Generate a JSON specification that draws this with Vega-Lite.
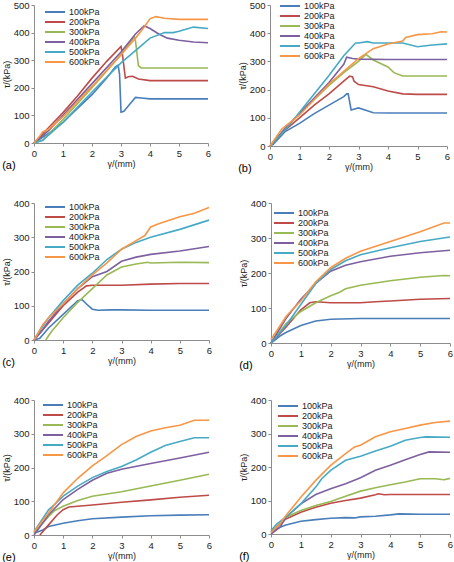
{
  "$schema": "https://vega.github.io/schema/vega-lite/v6.json",
  "padding": {"left": 2, "top": 0, "right": 2, "bottom": 0},
  "background": "white",
  "datasets": {
    "d": [
      {"panel":"a","p":"100kPa","x":0,"y":0},{"panel":"a","p":"100kPa","x":0.5,"y":35},{"panel":"a","p":"100kPa","x":1,"y":75},{"panel":"a","p":"100kPa","x":1.5,"y":125},{"panel":"a","p":"100kPa","x":2,"y":175},{"panel":"a","p":"100kPa","x":2.5,"y":235},{"panel":"a","p":"100kPa","x":2.8,"y":275},{"panel":"a","p":"100kPa","x":2.9,"y":282},{"panel":"a","p":"100kPa","x":2.95,"y":250},{"panel":"a","p":"100kPa","x":3.0,"y":112},{"panel":"a","p":"100kPa","x":3.1,"y":115},{"panel":"a","p":"100kPa","x":3.3,"y":140},{"panel":"a","p":"100kPa","x":3.5,"y":165},{"panel":"a","p":"100kPa","x":3.7,"y":163},{"panel":"a","p":"100kPa","x":4,"y":160},{"panel":"a","p":"100kPa","x":5,"y":160},{"panel":"a","p":"100kPa","x":6,"y":160},
      {"panel":"a","p":"200kPa","x":0,"y":0},{"panel":"a","p":"200kPa","x":0.5,"y":55},{"panel":"a","p":"200kPa","x":1,"y":110},{"panel":"a","p":"200kPa","x":1.5,"y":170},{"panel":"a","p":"200kPa","x":2,"y":235},{"panel":"a","p":"200kPa","x":2.5,"y":295},{"panel":"a","p":"200kPa","x":3,"y":350},{"panel":"a","p":"200kPa","x":3.05,"y":320},{"panel":"a","p":"200kPa","x":3.15,"y":235},{"panel":"a","p":"200kPa","x":3.25,"y":240},{"panel":"a","p":"200kPa","x":3.4,"y":242},{"panel":"a","p":"200kPa","x":3.6,"y":232},{"panel":"a","p":"200kPa","x":4,"y":226},{"panel":"a","p":"200kPa","x":5,"y":226},{"panel":"a","p":"200kPa","x":6,"y":226},
      {"panel":"a","p":"300kPa","x":0,"y":0},{"panel":"a","p":"300kPa","x":0.3,"y":10},{"panel":"a","p":"300kPa","x":1,"y":85},{"panel":"a","p":"300kPa","x":2,"y":200},{"panel":"a","p":"300kPa","x":3,"y":320},{"panel":"a","p":"300kPa","x":3.45,"y":385},{"panel":"a","p":"300kPa","x":3.5,"y":370},{"panel":"a","p":"300kPa","x":3.6,"y":280},{"panel":"a","p":"300kPa","x":3.7,"y":272},{"panel":"a","p":"300kPa","x":4,"y":272},{"panel":"a","p":"300kPa","x":6,"y":272},
      {"panel":"a","p":"400kPa","x":0,"y":0},{"panel":"a","p":"400kPa","x":0.5,"y":45},{"panel":"a","p":"400kPa","x":1,"y":100},{"panel":"a","p":"400kPa","x":2,"y":215},{"panel":"a","p":"400kPa","x":3,"y":330},{"panel":"a","p":"400kPa","x":3.5,"y":395},{"panel":"a","p":"400kPa","x":3.8,"y":425},{"panel":"a","p":"400kPa","x":4,"y":415},{"panel":"a","p":"400kPa","x":4.3,"y":395},{"panel":"a","p":"400kPa","x":4.6,"y":380},{"panel":"a","p":"400kPa","x":5,"y":372},{"panel":"a","p":"400kPa","x":5.5,"y":366},{"panel":"a","p":"400kPa","x":6,"y":363},
      {"panel":"a","p":"500kPa","x":0,"y":0},{"panel":"a","p":"500kPa","x":0.3,"y":10},{"panel":"a","p":"500kPa","x":1,"y":75},{"panel":"a","p":"500kPa","x":2,"y":185},{"panel":"a","p":"500kPa","x":3,"y":290},{"panel":"a","p":"500kPa","x":3.5,"y":335},{"panel":"a","p":"500kPa","x":4,"y":380},{"panel":"a","p":"500kPa","x":4.5,"y":400},{"panel":"a","p":"500kPa","x":4.8,"y":400},{"panel":"a","p":"500kPa","x":5,"y":405},{"panel":"a","p":"500kPa","x":5.5,"y":420},{"panel":"a","p":"500kPa","x":6,"y":415},
      {"panel":"a","p":"600kPa","x":0,"y":0},{"panel":"a","p":"600kPa","x":0.2,"y":25},{"panel":"a","p":"600kPa","x":0.3,"y":40},{"panel":"a","p":"600kPa","x":0.5,"y":50},{"panel":"a","p":"600kPa","x":1,"y":95},{"panel":"a","p":"600kPa","x":2,"y":205},{"panel":"a","p":"600kPa","x":3,"y":320},{"panel":"a","p":"600kPa","x":3.5,"y":380},{"panel":"a","p":"600kPa","x":3.8,"y":420},{"panel":"a","p":"600kPa","x":4,"y":450},{"panel":"a","p":"600kPa","x":4.2,"y":458},{"panel":"a","p":"600kPa","x":4.5,"y":452},{"panel":"a","p":"600kPa","x":5,"y":448},{"panel":"a","p":"600kPa","x":6,"y":448},

      {"panel":"b","p":"100kPa","x":0,"y":0},{"panel":"b","p":"100kPa","x":0.1,"y":5},{"panel":"b","p":"100kPa","x":0.5,"y":50},{"panel":"b","p":"100kPa","x":1,"y":80},{"panel":"b","p":"100kPa","x":1.5,"y":115},{"panel":"b","p":"100kPa","x":2,"y":145},{"panel":"b","p":"100kPa","x":2.5,"y":175},{"panel":"b","p":"100kPa","x":2.6,"y":185},{"panel":"b","p":"100kPa","x":2.65,"y":185},{"panel":"b","p":"100kPa","x":2.75,"y":128},{"panel":"b","p":"100kPa","x":3,"y":135},{"panel":"b","p":"100kPa","x":3.3,"y":125},{"panel":"b","p":"100kPa","x":3.5,"y":118},{"panel":"b","p":"100kPa","x":4,"y":117},{"panel":"b","p":"100kPa","x":5,"y":117},{"panel":"b","p":"100kPa","x":6,"y":117},
      {"panel":"b","p":"200kPa","x":0,"y":0},{"panel":"b","p":"200kPa","x":0.5,"y":55},{"panel":"b","p":"200kPa","x":1,"y":100},{"panel":"b","p":"200kPa","x":1.5,"y":145},{"panel":"b","p":"200kPa","x":2,"y":185},{"panel":"b","p":"200kPa","x":2.5,"y":230},{"panel":"b","p":"200kPa","x":2.7,"y":248},{"panel":"b","p":"200kPa","x":2.8,"y":245},{"panel":"b","p":"200kPa","x":2.85,"y":230},{"panel":"b","p":"200kPa","x":3,"y":218},{"panel":"b","p":"200kPa","x":3.5,"y":210},{"panel":"b","p":"200kPa","x":4,"y":195},{"panel":"b","p":"200kPa","x":4.5,"y":185},{"panel":"b","p":"200kPa","x":5,"y":183},{"panel":"b","p":"200kPa","x":6,"y":183},
      {"panel":"b","p":"300kPa","x":0,"y":0},{"panel":"b","p":"300kPa","x":0.5,"y":60},{"panel":"b","p":"300kPa","x":1,"y":115},{"panel":"b","p":"300kPa","x":2,"y":215},{"panel":"b","p":"300kPa","x":2.5,"y":260},{"panel":"b","p":"300kPa","x":3,"y":300},{"panel":"b","p":"300kPa","x":3.25,"y":325},{"panel":"b","p":"300kPa","x":3.5,"y":305},{"panel":"b","p":"300kPa","x":4,"y":280},{"panel":"b","p":"300kPa","x":4.2,"y":260},{"panel":"b","p":"300kPa","x":4.5,"y":248},{"panel":"b","p":"300kPa","x":5,"y":248},{"panel":"b","p":"300kPa","x":6,"y":248},
      {"panel":"b","p":"400kPa","x":0,"y":0},{"panel":"b","p":"400kPa","x":0.5,"y":60},{"panel":"b","p":"400kPa","x":1,"y":115},{"panel":"b","p":"400kPa","x":2,"y":225},{"panel":"b","p":"400kPa","x":2.5,"y":290},{"panel":"b","p":"400kPa","x":2.6,"y":315},{"panel":"b","p":"400kPa","x":2.8,"y":310},{"panel":"b","p":"400kPa","x":3,"y":308},{"panel":"b","p":"400kPa","x":4,"y":307},{"panel":"b","p":"400kPa","x":5,"y":307},{"panel":"b","p":"400kPa","x":6,"y":307},
      {"panel":"b","p":"500kPa","x":0,"y":0},{"panel":"b","p":"500kPa","x":0.5,"y":55},{"panel":"b","p":"500kPa","x":1,"y":120},{"panel":"b","p":"500kPa","x":2,"y":250},{"panel":"b","p":"500kPa","x":2.5,"y":320},{"panel":"b","p":"500kPa","x":2.9,"y":365},{"panel":"b","p":"500kPa","x":3,"y":365},{"panel":"b","p":"500kPa","x":3.3,"y":370},{"panel":"b","p":"500kPa","x":3.5,"y":365},{"panel":"b","p":"500kPa","x":4,"y":365},{"panel":"b","p":"500kPa","x":4.5,"y":365},{"panel":"b","p":"500kPa","x":5,"y":352},{"panel":"b","p":"500kPa","x":5.5,"y":358},{"panel":"b","p":"500kPa","x":6,"y":362},
      {"panel":"b","p":"600kPa","x":0,"y":0},{"panel":"b","p":"600kPa","x":0.4,"y":60},{"panel":"b","p":"600kPa","x":1,"y":110},{"panel":"b","p":"600kPa","x":2,"y":220},{"panel":"b","p":"600kPa","x":3,"y":310},{"panel":"b","p":"600kPa","x":3.5,"y":345},{"panel":"b","p":"600kPa","x":4,"y":362},{"panel":"b","p":"600kPa","x":4.5,"y":372},{"panel":"b","p":"600kPa","x":4.6,"y":385},{"panel":"b","p":"600kPa","x":5,"y":395},{"panel":"b","p":"600kPa","x":5.5,"y":398},{"panel":"b","p":"600kPa","x":5.8,"y":405},{"panel":"b","p":"600kPa","x":6,"y":404},

      {"panel":"c","p":"100kPa","x":0,"y":0},{"panel":"c","p":"100kPa","x":0.2,"y":5},{"panel":"c","p":"100kPa","x":0.5,"y":35},{"panel":"c","p":"100kPa","x":1,"y":75},{"panel":"c","p":"100kPa","x":1.5,"y":115},{"panel":"c","p":"100kPa","x":1.65,"y":118},{"panel":"c","p":"100kPa","x":1.8,"y":105},{"panel":"c","p":"100kPa","x":2,"y":90},{"panel":"c","p":"100kPa","x":2.2,"y":87},{"panel":"c","p":"100kPa","x":2.6,"y":88},{"panel":"c","p":"100kPa","x":3,"y":88},{"panel":"c","p":"100kPa","x":4,"y":87},{"panel":"c","p":"100kPa","x":5,"y":87},{"panel":"c","p":"100kPa","x":6,"y":87},
      {"panel":"c","p":"200kPa","x":0,"y":0},{"panel":"c","p":"200kPa","x":0.3,"y":30},{"panel":"c","p":"200kPa","x":0.5,"y":50},{"panel":"c","p":"200kPa","x":1,"y":100},{"panel":"c","p":"200kPa","x":1.5,"y":140},{"panel":"c","p":"200kPa","x":1.8,"y":158},{"panel":"c","p":"200kPa","x":2,"y":160},{"panel":"c","p":"200kPa","x":3,"y":160},{"panel":"c","p":"200kPa","x":4,"y":163},{"panel":"c","p":"200kPa","x":5,"y":165},{"panel":"c","p":"200kPa","x":6,"y":165},
      {"panel":"c","p":"300kPa","x":0.4,"y":0},{"panel":"c","p":"300kPa","x":0.6,"y":25},{"panel":"c","p":"300kPa","x":1,"y":65},{"panel":"c","p":"300kPa","x":1.5,"y":110},{"panel":"c","p":"300kPa","x":2,"y":150},{"panel":"c","p":"300kPa","x":2.5,"y":190},{"panel":"c","p":"300kPa","x":3,"y":213},{"panel":"c","p":"300kPa","x":3.5,"y":222},{"panel":"c","p":"300kPa","x":3.9,"y":227},{"panel":"c","p":"300kPa","x":4,"y":225},{"panel":"c","p":"300kPa","x":5,"y":227},{"panel":"c","p":"300kPa","x":6,"y":226},
      {"panel":"c","p":"400kPa","x":0,"y":0},{"panel":"c","p":"400kPa","x":0.3,"y":30},{"panel":"c","p":"400kPa","x":0.5,"y":55},{"panel":"c","p":"400kPa","x":1,"y":105},{"panel":"c","p":"400kPa","x":1.5,"y":150},{"panel":"c","p":"400kPa","x":2,"y":185},{"panel":"c","p":"400kPa","x":2.5,"y":200},{"panel":"c","p":"400kPa","x":3,"y":230},{"panel":"c","p":"400kPa","x":3.5,"y":242},{"panel":"c","p":"400kPa","x":4,"y":250},{"panel":"c","p":"400kPa","x":5,"y":260},{"panel":"c","p":"400kPa","x":6,"y":273},
      {"panel":"c","p":"500kPa","x":0,"y":0},{"panel":"c","p":"500kPa","x":0.3,"y":40},{"panel":"c","p":"500kPa","x":0.5,"y":65},{"panel":"c","p":"500kPa","x":1,"y":115},{"panel":"c","p":"500kPa","x":1.5,"y":160},{"panel":"c","p":"500kPa","x":2,"y":195},{"panel":"c","p":"500kPa","x":2.5,"y":235},{"panel":"c","p":"500kPa","x":3,"y":265},{"panel":"c","p":"500kPa","x":3.5,"y":285},{"panel":"c","p":"500kPa","x":4,"y":300},{"panel":"c","p":"500kPa","x":5,"y":323},{"panel":"c","p":"500kPa","x":6,"y":350},
      {"panel":"c","p":"600kPa","x":0,"y":0},{"panel":"c","p":"600kPa","x":0.3,"y":45},{"panel":"c","p":"600kPa","x":0.4,"y":55},{"panel":"c","p":"600kPa","x":0.5,"y":65},{"panel":"c","p":"600kPa","x":1,"y":105},{"panel":"c","p":"600kPa","x":1.5,"y":150},{"panel":"c","p":"600kPa","x":2,"y":190},{"panel":"c","p":"600kPa","x":2.5,"y":225},{"panel":"c","p":"600kPa","x":3,"y":265},{"panel":"c","p":"600kPa","x":3.5,"y":290},{"panel":"c","p":"600kPa","x":3.8,"y":305},{"panel":"c","p":"600kPa","x":4,"y":330},{"panel":"c","p":"600kPa","x":4.3,"y":340},{"panel":"c","p":"600kPa","x":5,"y":360},{"panel":"c","p":"600kPa","x":5.5,"y":370},{"panel":"c","p":"600kPa","x":6,"y":387},

      {"panel":"d","p":"100kPa","x":0,"y":0},{"panel":"d","p":"100kPa","x":0.3,"y":20},{"panel":"d","p":"100kPa","x":0.5,"y":30},{"panel":"d","p":"100kPa","x":1,"y":50},{"panel":"d","p":"100kPa","x":1.5,"y":63},{"panel":"d","p":"100kPa","x":2,"y":68},{"panel":"d","p":"100kPa","x":3,"y":70},{"panel":"d","p":"100kPa","x":4,"y":70},{"panel":"d","p":"100kPa","x":5,"y":70},{"panel":"d","p":"100kPa","x":6,"y":70},
      {"panel":"d","p":"200kPa","x":0,"y":0},{"panel":"d","p":"200kPa","x":0.5,"y":45},{"panel":"d","p":"200kPa","x":1,"y":95},{"panel":"d","p":"200kPa","x":1.3,"y":115},{"panel":"d","p":"200kPa","x":1.5,"y":118},{"panel":"d","p":"200kPa","x":2,"y":115},{"panel":"d","p":"200kPa","x":3,"y":115},{"panel":"d","p":"200kPa","x":3.5,"y":118},{"panel":"d","p":"200kPa","x":4,"y":120},{"panel":"d","p":"200kPa","x":5,"y":125},{"panel":"d","p":"200kPa","x":6,"y":127},
      {"panel":"d","p":"300kPa","x":0,"y":0},{"panel":"d","p":"300kPa","x":0.5,"y":55},{"panel":"d","p":"300kPa","x":1,"y":90},{"panel":"d","p":"300kPa","x":1.5,"y":115},{"panel":"d","p":"300kPa","x":2,"y":135},{"panel":"d","p":"300kPa","x":2.3,"y":145},{"panel":"d","p":"300kPa","x":2.5,"y":155},{"panel":"d","p":"300kPa","x":3,"y":165},{"panel":"d","p":"300kPa","x":4,"y":178},{"panel":"d","p":"300kPa","x":5,"y":188},{"panel":"d","p":"300kPa","x":5.8,"y":193},{"panel":"d","p":"300kPa","x":6,"y":192},
      {"panel":"d","p":"400kPa","x":0,"y":0},{"panel":"d","p":"400kPa","x":0.5,"y":70},{"panel":"d","p":"400kPa","x":1,"y":125},{"panel":"d","p":"400kPa","x":1.5,"y":170},{"panel":"d","p":"400kPa","x":2,"y":205},{"panel":"d","p":"400kPa","x":2.5,"y":222},{"panel":"d","p":"400kPa","x":3,"y":232},{"panel":"d","p":"400kPa","x":4,"y":248},{"panel":"d","p":"400kPa","x":5,"y":258},{"panel":"d","p":"400kPa","x":6,"y":265},
      {"panel":"d","p":"500kPa","x":0,"y":0},{"panel":"d","p":"500kPa","x":0.5,"y":50},{"panel":"d","p":"500kPa","x":1,"y":110},{"panel":"d","p":"500kPa","x":1.5,"y":170},{"panel":"d","p":"500kPa","x":2,"y":210},{"panel":"d","p":"500kPa","x":2.5,"y":235},{"panel":"d","p":"500kPa","x":3,"y":252},{"panel":"d","p":"500kPa","x":4,"y":272},{"panel":"d","p":"500kPa","x":5,"y":290},{"panel":"d","p":"500kPa","x":6,"y":303},
      {"panel":"d","p":"600kPa","x":0,"y":10},{"panel":"d","p":"600kPa","x":0.5,"y":75},{"panel":"d","p":"600kPa","x":0.6,"y":85},{"panel":"d","p":"600kPa","x":1,"y":120},{"panel":"d","p":"600kPa","x":1.5,"y":175},{"panel":"d","p":"600kPa","x":2,"y":215},{"panel":"d","p":"600kPa","x":2.5,"y":242},{"panel":"d","p":"600kPa","x":3,"y":262},{"panel":"d","p":"600kPa","x":4,"y":290},{"panel":"d","p":"600kPa","x":5,"y":318},{"panel":"d","p":"600kPa","x":5.8,"y":343},{"panel":"d","p":"600kPa","x":6,"y":343},

      {"panel":"e","p":"100kPa","x":0,"y":5},{"panel":"e","p":"100kPa","x":0.3,"y":15},{"panel":"e","p":"100kPa","x":0.5,"y":25},{"panel":"e","p":"100kPa","x":1,"y":35},{"panel":"e","p":"100kPa","x":1.5,"y":42},{"panel":"e","p":"100kPa","x":2,"y":48},{"panel":"e","p":"100kPa","x":3,"y":53},{"panel":"e","p":"100kPa","x":4,"y":57},{"panel":"e","p":"100kPa","x":5,"y":59},{"panel":"e","p":"100kPa","x":6,"y":60},
      {"panel":"e","p":"200kPa","x":0.2,"y":0},{"panel":"e","p":"200kPa","x":0.5,"y":30},{"panel":"e","p":"200kPa","x":0.8,"y":60},{"panel":"e","p":"200kPa","x":1,"y":75},{"panel":"e","p":"200kPa","x":1.2,"y":83},{"panel":"e","p":"200kPa","x":1.5,"y":85},{"panel":"e","p":"200kPa","x":2,"y":89},{"panel":"e","p":"200kPa","x":3,"y":97},{"panel":"e","p":"200kPa","x":4,"y":104},{"panel":"e","p":"200kPa","x":5,"y":112},{"panel":"e","p":"200kPa","x":6,"y":118},
      {"panel":"e","p":"300kPa","x":0,"y":5},{"panel":"e","p":"300kPa","x":0.5,"y":55},{"panel":"e","p":"300kPa","x":0.7,"y":72},{"panel":"e","p":"300kPa","x":1,"y":85},{"panel":"e","p":"300kPa","x":1.5,"y":102},{"panel":"e","p":"300kPa","x":2,"y":115},{"panel":"e","p":"300kPa","x":3,"y":128},{"panel":"e","p":"300kPa","x":4,"y":145},{"panel":"e","p":"300kPa","x":5,"y":162},{"panel":"e","p":"300kPa","x":6,"y":180},
      {"panel":"e","p":"400kPa","x":0,"y":0},{"panel":"e","p":"400kPa","x":0.5,"y":60},{"panel":"e","p":"400kPa","x":1,"y":105},{"panel":"e","p":"400kPa","x":1.5,"y":135},{"panel":"e","p":"400kPa","x":2,"y":162},{"panel":"e","p":"400kPa","x":2.5,"y":183},{"panel":"e","p":"400kPa","x":3,"y":195},{"panel":"e","p":"400kPa","x":4,"y":212},{"panel":"e","p":"400kPa","x":5,"y":228},{"panel":"e","p":"400kPa","x":6,"y":245},
      {"panel":"e","p":"500kPa","x":0,"y":10},{"panel":"e","p":"500kPa","x":0.5,"y":75},{"panel":"e","p":"500kPa","x":0.7,"y":90},{"panel":"e","p":"500kPa","x":1,"y":115},{"panel":"e","p":"500kPa","x":1.5,"y":145},{"panel":"e","p":"500kPa","x":2,"y":170},{"panel":"e","p":"500kPa","x":2.5,"y":188},{"panel":"e","p":"500kPa","x":3,"y":203},{"panel":"e","p":"500kPa","x":3.5,"y":222},{"panel":"e","p":"500kPa","x":4,"y":245},{"panel":"e","p":"500kPa","x":4.5,"y":265},{"panel":"e","p":"500kPa","x":5,"y":277},{"panel":"e","p":"500kPa","x":5.5,"y":288},{"panel":"e","p":"500kPa","x":6,"y":288},
      {"panel":"e","p":"600kPa","x":0,"y":10},{"panel":"e","p":"600kPa","x":0.5,"y":65},{"panel":"e","p":"600kPa","x":1,"y":125},{"panel":"e","p":"600kPa","x":1.5,"y":168},{"panel":"e","p":"600kPa","x":2,"y":205},{"panel":"e","p":"600kPa","x":2.5,"y":235},{"panel":"e","p":"600kPa","x":3,"y":268},{"panel":"e","p":"600kPa","x":3.5,"y":292},{"panel":"e","p":"600kPa","x":4,"y":308},{"panel":"e","p":"600kPa","x":4.5,"y":318},{"panel":"e","p":"600kPa","x":5,"y":325},{"panel":"e","p":"600kPa","x":5.5,"y":340},{"panel":"e","p":"600kPa","x":6,"y":340},

      {"panel":"f","p":"100kPa","x":0,"y":5},{"panel":"f","p":"100kPa","x":0.3,"y":20},{"panel":"f","p":"100kPa","x":0.5,"y":27},{"panel":"f","p":"100kPa","x":1,"y":38},{"panel":"f","p":"100kPa","x":1.5,"y":43},{"panel":"f","p":"100kPa","x":2,"y":47},{"panel":"f","p":"100kPa","x":2.5,"y":49},{"panel":"f","p":"100kPa","x":2.8,"y":48},{"panel":"f","p":"100kPa","x":3,"y":51},{"panel":"f","p":"100kPa","x":3.5,"y":53},{"panel":"f","p":"100kPa","x":4,"y":57},{"panel":"f","p":"100kPa","x":4.3,"y":60},{"panel":"f","p":"100kPa","x":5,"y":59},{"panel":"f","p":"100kPa","x":6,"y":59},
      {"panel":"f","p":"200kPa","x":0,"y":5},{"panel":"f","p":"200kPa","x":0.5,"y":45},{"panel":"f","p":"200kPa","x":1,"y":65},{"panel":"f","p":"200kPa","x":1.5,"y":80},{"panel":"f","p":"200kPa","x":2,"y":92},{"panel":"f","p":"200kPa","x":2.5,"y":100},{"panel":"f","p":"200kPa","x":3,"y":107},{"panel":"f","p":"200kPa","x":3.5,"y":117},{"panel":"f","p":"200kPa","x":3.6,"y":120},{"panel":"f","p":"200kPa","x":3.8,"y":117},{"panel":"f","p":"200kPa","x":4,"y":118},{"panel":"f","p":"200kPa","x":5,"y":118},{"panel":"f","p":"200kPa","x":6,"y":118},
      {"panel":"f","p":"300kPa","x":0,"y":5},{"panel":"f","p":"300kPa","x":0.5,"y":50},{"panel":"f","p":"300kPa","x":1,"y":70},{"panel":"f","p":"300kPa","x":1.5,"y":85},{"panel":"f","p":"300kPa","x":2,"y":97},{"panel":"f","p":"300kPa","x":2.5,"y":113},{"panel":"f","p":"300kPa","x":3,"y":128},{"panel":"f","p":"300kPa","x":3.5,"y":138},{"panel":"f","p":"300kPa","x":4,"y":147},{"panel":"f","p":"300kPa","x":4.5,"y":155},{"panel":"f","p":"300kPa","x":5,"y":165},{"panel":"f","p":"300kPa","x":5.5,"y":165},{"panel":"f","p":"300kPa","x":5.8,"y":162},{"panel":"f","p":"300kPa","x":6,"y":166},
      {"panel":"f","p":"400kPa","x":0,"y":0},{"panel":"f","p":"400kPa","x":0.3,"y":20},{"panel":"f","p":"400kPa","x":0.5,"y":50},{"panel":"f","p":"400kPa","x":1,"y":90},{"panel":"f","p":"400kPa","x":1.5,"y":118},{"panel":"f","p":"400kPa","x":2,"y":135},{"panel":"f","p":"400kPa","x":2.5,"y":150},{"panel":"f","p":"400kPa","x":3,"y":168},{"panel":"f","p":"400kPa","x":3.5,"y":190},{"panel":"f","p":"400kPa","x":4,"y":205},{"panel":"f","p":"400kPa","x":4.5,"y":222},{"panel":"f","p":"400kPa","x":5,"y":237},{"panel":"f","p":"400kPa","x":5.3,"y":245},{"panel":"f","p":"400kPa","x":6,"y":244},
      {"panel":"f","p":"500kPa","x":0,"y":10},{"panel":"f","p":"500kPa","x":0.2,"y":30},{"panel":"f","p":"500kPa","x":0.5,"y":50},{"panel":"f","p":"500kPa","x":1,"y":90},{"panel":"f","p":"500kPa","x":1.5,"y":140},{"panel":"f","p":"500kPa","x":1.7,"y":165},{"panel":"f","p":"500kPa","x":2,"y":190},{"panel":"f","p":"500kPa","x":2.5,"y":220},{"panel":"f","p":"500kPa","x":3,"y":232},{"panel":"f","p":"500kPa","x":3.5,"y":248},{"panel":"f","p":"500kPa","x":4,"y":262},{"panel":"f","p":"500kPa","x":4.5,"y":280},{"panel":"f","p":"500kPa","x":5,"y":288},{"panel":"f","p":"500kPa","x":5.2,"y":290},{"panel":"f","p":"500kPa","x":6,"y":289},
      {"panel":"f","p":"600kPa","x":0,"y":5},{"panel":"f","p":"600kPa","x":0.3,"y":30},{"panel":"f","p":"600kPa","x":0.5,"y":55},{"panel":"f","p":"600kPa","x":1,"y":110},{"panel":"f","p":"600kPa","x":1.5,"y":160},{"panel":"f","p":"600kPa","x":2,"y":205},{"panel":"f","p":"600kPa","x":2.5,"y":240},{"panel":"f","p":"600kPa","x":2.8,"y":260},{"panel":"f","p":"600kPa","x":3,"y":265},{"panel":"f","p":"600kPa","x":3.5,"y":290},{"panel":"f","p":"600kPa","x":4,"y":305},{"panel":"f","p":"600kPa","x":4.5,"y":315},{"panel":"f","p":"600kPa","x":5,"y":325},{"panel":"f","p":"600kPa","x":5.5,"y":333},{"panel":"f","p":"600kPa","x":6,"y":337}
    ]
  },
  "data": {"name": "d"},
  "vconcat": [
    {"hconcat": [
      {"width": 174, "height": 138, "title": {"text": "(a)"}, "transform": [{"filter": "datum.panel == 'a'"}], "mark": {"type": "line", "strokeWidth": 1.6},
       "encoding": {"x": {"field": "x", "type": "quantitative", "scale": {"domain": [0, 6], "nice": false}, "axis": {"values": [0,1,2,3,4,5,6], "title": "γ/(mm)"}},
                    "y": {"field": "y", "type": "quantitative", "scale": {"domain": [0, 500], "nice": false}, "axis": {"values": [0,100,200,300,400,500], "title": "τ/(kPa)"}},
                    "color": {"field": "p", "type": "nominal", "legend": {"legendX": 10, "legendY": 2}, "scale": {"domain": ["100kPa","200kPa","300kPa","400kPa","500kPa","600kPa"], "range": ["#4A7EBB","#BE4B48","#98B954","#7D60A0","#46AAC5","#F79646"]}},
                    "order": {"field": "x", "type": "quantitative"}}},
      {"width": 177, "height": 141, "title": {"text": "(b)"}, "transform": [{"filter": "datum.panel == 'b'"}], "mark": {"type": "line", "strokeWidth": 1.6},
       "encoding": {"x": {"field": "x", "type": "quantitative", "scale": {"domain": [0, 6], "nice": false}, "axis": {"values": [0,1,2,3,4,5,6], "title": "γ/(mm)"}},
                    "y": {"field": "y", "type": "quantitative", "scale": {"domain": [0, 500], "nice": false}, "axis": {"values": [0,100,200,300,400,500], "title": "τ/(kPa)"}},
                    "color": {"field": "p", "type": "nominal", "legend": {"legendX": 9, "legendY": -4}, "scale": {"domain": ["100kPa","200kPa","300kPa","400kPa","500kPa","600kPa"], "range": ["#4A7EBB","#BE4B48","#98B954","#7D60A0","#46AAC5","#F79646"]}},
                    "order": {"field": "x", "type": "quantitative"}}}
    ], "spacing": 26, "resolve": {"scale": {"color": "independent", "x": "independent", "y": "independent"}}},
    {"hconcat": [
      {"width": 175, "height": 137, "title": {"text": "(c)"}, "transform": [{"filter": "datum.panel == 'c'"}], "mark": {"type": "line", "strokeWidth": 1.6},
       "encoding": {"x": {"field": "x", "type": "quantitative", "scale": {"domain": [0, 6], "nice": false}, "axis": {"values": [0,1,2,3,4,5,6], "title": "γ/(mm)"}},
                    "y": {"field": "y", "type": "quantitative", "scale": {"domain": [0, 400], "nice": false}, "axis": {"values": [0,100,200,300,400], "title": "τ/(kPa)"}},
                    "color": {"field": "p", "type": "nominal", "legend": {"legendX": 10, "legendY": -1}, "scale": {"domain": ["100kPa","200kPa","300kPa","400kPa","500kPa","600kPa"], "range": ["#4A7EBB","#BE4B48","#98B954","#7D60A0","#46AAC5","#F79646"]}},
                    "order": {"field": "x", "type": "quantitative"}}},
      {"width": 179, "height": 140, "title": {"text": "(d)"}, "transform": [{"filter": "datum.panel == 'd'"}], "mark": {"type": "line", "strokeWidth": 1.6},
       "encoding": {"x": {"field": "x", "type": "quantitative", "scale": {"domain": [0, 6], "nice": false}, "axis": {"values": [0,1,2,3,4,5,6], "title": "γ/(mm)"}},
                    "y": {"field": "y", "type": "quantitative", "scale": {"domain": [0, 400], "nice": false}, "axis": {"values": [0,100,200,300,400], "title": "τ/(kPa)"}},
                    "color": {"field": "p", "type": "nominal", "legend": {"legendX": 2, "legendY": 5}, "scale": {"domain": ["100kPa","200kPa","300kPa","400kPa","500kPa","600kPa"], "range": ["#4A7EBB","#BE4B48","#98B954","#7D60A0","#46AAC5","#F79646"]}},
                    "order": {"field": "x", "type": "quantitative"}}}
    ], "spacing": 26, "resolve": {"scale": {"color": "independent", "x": "independent", "y": "independent"}}},
    {"hconcat": [
      {"width": 175, "height": 135, "title": {"text": "(e)"}, "transform": [{"filter": "datum.panel == 'e'"}], "mark": {"type": "line", "strokeWidth": 1.6},
       "encoding": {"x": {"field": "x", "type": "quantitative", "scale": {"domain": [0, 6], "nice": false}, "axis": {"values": [0,1,2,3,4,5,6], "title": "γ/(mm)"}},
                    "y": {"field": "y", "type": "quantitative", "scale": {"domain": [0, 400], "nice": false}, "axis": {"values": [0,100,200,300,400], "title": "τ/(kPa)"}},
                    "color": {"field": "p", "type": "nominal", "legend": {"legendX": 8, "legendY": 0}, "scale": {"domain": ["100kPa","200kPa","300kPa","400kPa","500kPa","600kPa"], "range": ["#4A7EBB","#BE4B48","#98B954","#7D60A0","#46AAC5","#F79646"]}},
                    "order": {"field": "x", "type": "quantitative"}}},
      {"width": 179, "height": 134, "title": {"text": "(f)"}, "transform": [{"filter": "datum.panel == 'f'"}], "mark": {"type": "line", "strokeWidth": 1.6},
       "encoding": {"x": {"field": "x", "type": "quantitative", "scale": {"domain": [0, 6], "nice": false}, "axis": {"values": [0,1,2,3,4,5,6], "title": "γ/(mm)"}},
                    "y": {"field": "y", "type": "quantitative", "scale": {"domain": [0, 400], "nice": false}, "axis": {"values": [0,100,200,300,400], "title": "τ/(kPa)"}},
                    "color": {"field": "p", "type": "nominal", "legend": {"legendX": 6, "legendY": 1}, "scale": {"domain": ["100kPa","200kPa","300kPa","400kPa","500kPa","600kPa"], "range": ["#4A7EBB","#BE4B48","#98B954","#7D60A0","#46AAC5","#F79646"]}},
                    "order": {"field": "x", "type": "quantitative"}}}
    ], "spacing": 26, "resolve": {"scale": {"color": "independent", "x": "independent", "y": "independent"}}}
  ],
  "spacing": 24,
  "resolve": {"scale": {"color": "independent", "x": "independent", "y": "independent"}},
  "config": {
    "font": "Liberation Sans",
    "view": {"stroke": null},
    "title": {"orient": "bottom", "anchor": "start", "frame": "bounds", "fontSize": 11, "fontWeight": "normal", "color": "#000", "offset": -9},
    "axis": {"grid": false, "domainColor": "#8c8c8c", "tickColor": "#8c8c8c", "tickSize": 3, "labelFontSize": 9.5, "labelColor": "#222", "titleFontSize": 9, "titleFontWeight": "normal", "titleColor": "#222", "labelPadding": 2, "titlePadding": 2, "labelFlush": false},
    "legend": {"orient": "none", "title": null, "labelFontSize": 9, "labelColor": "#222", "symbolType": "stroke", "symbolSize": 400, "symbolStrokeWidth": 2, "clipHeight": 10, "rowPadding": 0, "labelOffset": 3, "padding": 0}
  }
}
